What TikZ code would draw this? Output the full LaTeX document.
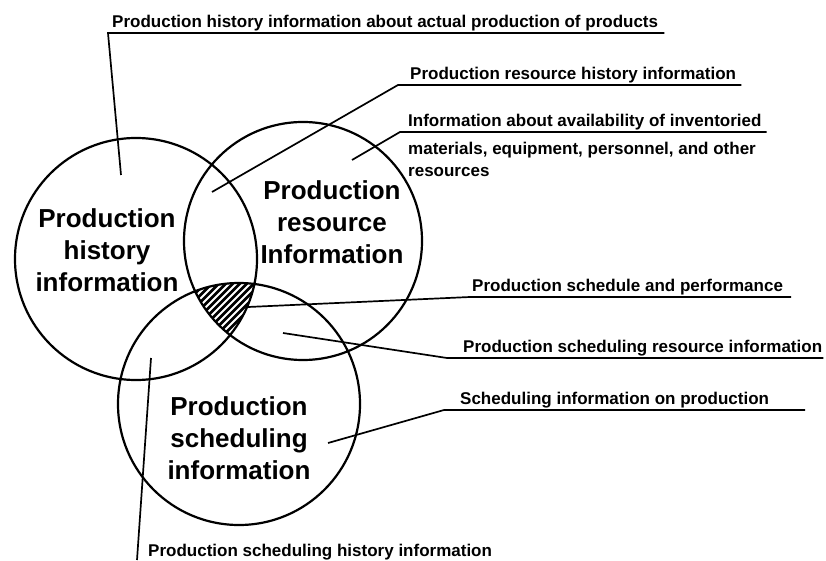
\documentclass[tikz,border=0pt]{standalone}
\usepackage{fontspec}
\setmainfont{Liberation Sans}
\usetikzlibrary{positioning}
\tikzset{
    venn line/.style={line width=2.2pt},
    leader/.style={line width=1.7pt},
    hatch line/.style={white,line width=2pt},
    area text/.style={font=\fontsize{26}{32}\selectfont\bfseries,align=center,inner sep=0pt},
    label text/.style={font=\fontsize{17}{22}\selectfont\bfseries,inner xsep=0pt,inner ysep=5pt,text depth=0pt,anchor=south west},
}

\begin{document}
\begin{tikzpicture}[x=1pt,y=1pt]
    \useasboundingbox (0,0) rectangle (826,560);
    \coordinate (hist) at (136,301);
    \coordinate (res) at (303,319);
    \coordinate (sched) at (239,156);
    \begin{scope}
        \clip (hist) circle (121);
        \clip (res) circle (119);
        \clip (sched) circle (121);
        \fill (170,200) rectangle (280,300);
        \foreach \i in {-84,-77,...,84}
            \draw[hatch line] (225+\i-50,251-50) -- (225+\i+50,251+50);
    \end{scope}
    \draw[venn line] (hist) circle (121) (res) circle (119) (sched) circle (121);

    \node[area text] (histtext) at (107,310) {Production\\history\\information};
    \node[area text] (restext) at (332,338) {Production\\resource\\Information};
    \node[area text] (schedtext) at (239,122) {Production\\scheduling\\information};

    \node[label text] (lbl1) at (112,527) {Production history information about actual production of products};
    \node[label text] (lbl2) at (410,475) {Production resource history information};
    \node[label text] (lbl3) at (408,428) {Information about availability of inventoried};
    \node[label text,anchor=base west] (lbl3b) at (408,405) {materials, equipment, personnel, and other};
    \node[label text,anchor=base west] (lbl3c) at (408,383) {resources};
    \node[label text] (lbl4) at (472,263) {Production schedule and performance};
    \node[label text] (lbl5) at (463,202) {Production scheduling resource information};
    \node[label text] (lbl6) at (460,150) {Scheduling information on production};
    \node[label text,anchor=base west] (lbl7) at (148,4) {Production scheduling history information};

    \coordinate (p1) at (121,385);
    \coordinate (p2) at (212,368);
    \coordinate (p3) at (352,400);
    \coordinate (p4) at (248,253);
    \coordinate (p5) at (283,227);
    \coordinate (p6) at (328,117);
    \coordinate (p7) at (151,202);

    \draw[leader] (p1) -- ([xshift=-4pt]lbl1.south west) -- ([xshift=6pt]lbl1.south east);
    \draw[leader] (p2) -- ([xshift=-12pt]lbl2.south west) -- ([xshift=5pt]lbl2.south east);
    \draw[leader] (p3) -- ([xshift=-8pt]lbl3.south west) -- ([xshift=5pt]lbl3.south east);
    \draw[leader] (p4) -- ([xshift=-2pt]lbl4.south west) -- ([xshift=8pt]lbl4.south east);
    \draw[leader] (p5) -- ([xshift=-16pt]lbl5.south west) -- ([xshift=1pt]lbl5.south east);
    \draw[leader] (p6) -- ([xshift=-16pt]lbl6.south west) -- ([xshift=36pt]lbl6.south east);
    \draw[leader] (p7) -- ([xshift=-11pt,yshift=-4pt]lbl7.base west);
\end{tikzpicture}
\end{document}
